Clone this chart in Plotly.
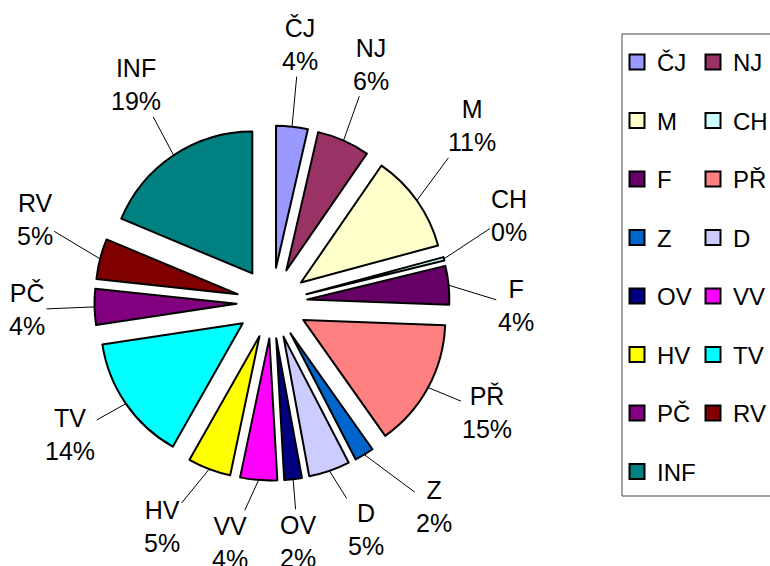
import math
import plotly.graph_objects as go

# ---- data ----
subjects = ["ČJ", "NJ", "M", "CH", "F", "PŘ", "Z", "D", "OV", "VV", "HV", "TV", "PČ", "RV", "INF"]
shares = [3.6, 6.0, 11.2, 0.4, 4.4, 14.6, 2.2, 4.7, 2.0, 4.2, 4.9, 14.4, 4.1, 4.6, 18.7]
colors = ["#9999FF", "#993366", "#FFFFCC", "#CCFFFF", "#660066", "#FF8080", "#0066CC",
          "#CCCCFF", "#000080", "#FF00FF", "#FFFF00", "#00FFFF", "#800080", "#800000", "#008080"]

# ---- layout constants ----
W, H = 770, 566
CX, CY = 272, 303          # pie centre (px)
R = 142                    # pie radius (px)
PULL = 0.25                # explode fraction
HALF = R * (1 + PULL)
LRX, LRY, LDY = 245, 250, -10   # label ellipse radii / vertical shift (px)
BOXW, BOXH = 68, 90             # label spacing box for collision relaxation
FONT = "Liberation Sans, Arial, sans-serif"
FS = 25

fig = go.Figure()
fig.add_trace(go.Pie(
    labels=subjects, values=shares, sort=False, direction="clockwise", rotation=0,
    pull=PULL, textinfo="none", hoverinfo="label+percent", showlegend=False,
    marker=dict(colors=colors, line=dict(color="black", width=2)),
    domain=dict(x=[(CX - HALF) / W, (CX + HALF) / W],
                y=[1 - (CY + HALF) / H, 1 - (CY - HALF) / H]),
))

# label anchor points derived from slice angles
total = sum(shares)
cum = 0.0
tips, labs, texts = [], [], []
for s, v in zip(subjects, shares):
    mid = (cum + v / 2) / total * 2 * math.pi
    cum += v
    sn, cs = math.sin(mid), math.cos(mid)
    tips.append((CX + HALF * sn, CY - HALF * cs))
    labs.append([CX + LRX * sn, CY + LDY - LRY * cs])
    texts.append(f"{s}<br>{int(v / total * 100 + 0.5)}%")

# simple collision relaxation of label boxes
for _ in range(300):
    moved = False
    for i in range(len(labs)):
        for j in range(i + 1, len(labs)):
            dx = labs[j][0] - labs[i][0]
            dy = labs[j][1] - labs[i][1]
            ox = BOXW - abs(dx)
            oy = BOXH - abs(dy)
            if ox > 0 and oy > 0:
                moved = True
                if ox / BOXW < oy / BOXH:
                    sgn = 1 if dx >= 0 else -1
                    labs[i][0] -= sgn * ox / 4
                    labs[j][0] += sgn * ox / 4
                else:
                    sgn = 1 if dy >= 0 else -1
                    labs[i][1] -= sgn * oy / 4
                    labs[j][1] += sgn * oy / 4
    if not moved:
        break

annotations = []
for (tx, ty), (lx, ly), t in zip(tips, labs, texts):
    annotations.append(dict(
        x=tx / W, y=1 - ty / H, xref="paper", yref="paper",
        ax=lx - tx, ay=ly - ty, axref="pixel", ayref="pixel",
        text=t, showarrow=True, arrowhead=0, arrowwidth=1,
        arrowcolor="black", standoff=0, font=dict(family=FONT, size=FS, color="black"),
    ))

# legend entries (two columns)
for i, (s, c) in enumerate(zip(subjects, colors)):
    fig.add_trace(go.Scatter(
        x=[None], y=[None], mode="markers", name=s, legendgroup=s,
        legend="legend" if i % 2 == 0 else "legend2", hoverinfo="skip",
        marker=dict(symbol="square", size=15, color=c, line=dict(color="black", width=2)),
    ))

legend_common = dict(yanchor="top", xanchor="left", font=dict(family=FONT, size=24, color="black"),
                     tracegroupgap=24.3, bgcolor="rgba(0,0,0,0)", borderwidth=0)
fig.update_layout(
    width=W, height=H, margin=dict(l=0, r=0, t=0, b=0, autoexpand=False),
    paper_bgcolor="white", plot_bgcolor="white",
    xaxis=dict(visible=False), yaxis=dict(visible=False),
    legend=dict(x=617 / W, y=1 - 40 / H, **legend_common),
    legend2=dict(x=693 / W, y=1 - 40 / H, **legend_common),
    annotations=annotations,
    shapes=[dict(type="rect", xref="paper", yref="paper", x0=622 / W, x1=1.02,
                 y0=1 - 496 / H, y1=1 - 34 / H, line=dict(color="#444444", width=1))],
)

fig.write_html("out.html", config={"displayModeBar": False},
               post_script="document.body.style.margin='0';document.body.style.overflow='hidden';")
